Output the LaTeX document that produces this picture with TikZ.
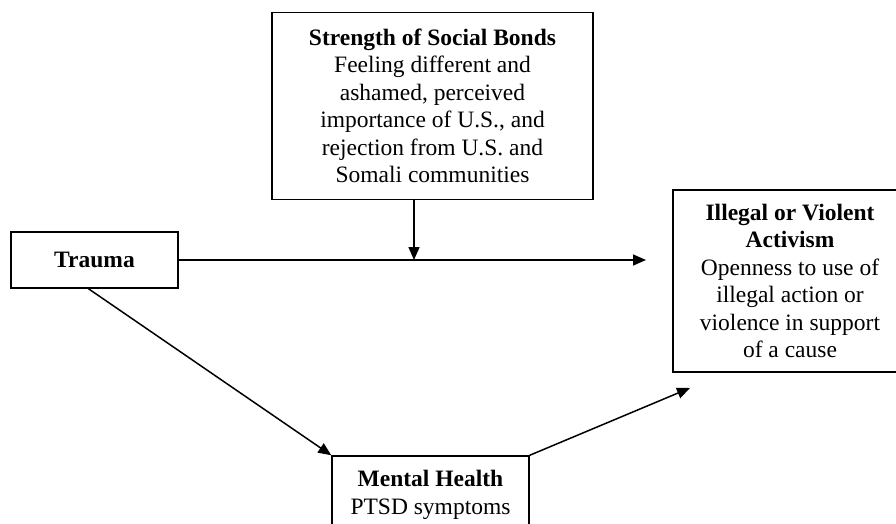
\documentclass[tikz,border=0pt]{standalone}
\usepackage{fontspec}
\setmainfont{Liberation Serif}
\usetikzlibrary{arrows.meta}
\begin{document}
\begin{tikzpicture}[x=1pt,y=-1pt,
	box/.style={draw, line width=1.5pt, align=center, inner sep=0pt, font=\fontsize{23.5}{27.5}\selectfont},
	link/.style={line width=1.5pt, -{Triangle[length=13pt,width=11pt]}}]
	\useasboundingbox (0,0) rectangle (896,523);
	% the four boxes
	\node[box, minimum width=321pt, minimum height=187pt] (bonds) at (432.5,106)
	{\textbf{Strength of Social Bonds}\\Feeling different and\\ashamed, perceived\\importance of U.S., and\\rejection from U.S. and\\Somali communities};
	\node[box, minimum width=167pt, minimum height=56pt] (trauma) at (94.5,260) {\textbf{Trauma}};
	\node[box, minimum width=234pt, minimum height=182pt] (activism) at (790,281)
	{\textbf{Illegal or Violent}\\\textbf{Activism}\\Openness to use of\\illegal action or\\violence in support\\of a cause};
	\node[box, minimum width=197pt, minimum height=108pt] (mental) at (430.5,510)
	{\textbf{Mental Health}\\PTSD symptoms\\\strut};
	% loose ends of the paths
	\coordinate (hend) at (646,260);
	\coordinate (join) at (414,260);
	\coordinate (mend) at (690,388);
	\draw[link] (trauma.east) -- (hend);
	\draw[link] (bonds.south -| join) -- (join);
	\draw[link] ([xshift=-6pt]trauma.south) -- (mental.north west);
	\draw[link] (mental.north east) -- (mend);
\end{tikzpicture}
\end{document}
